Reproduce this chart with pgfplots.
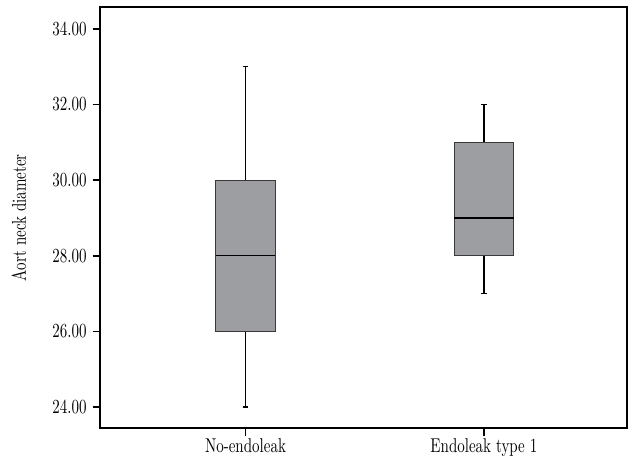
\documentclass[border=0pt]{standalone}
\usepackage{pgfplots}
\pgfplotsset{compat=1.18}
\usepgfplotslibrary{statistics}
\definecolor{boxfill}{HTML}{9D9EA2}
\definecolor{boxedge}{HTML}{3A3A3A}
\newcommand{\lab}[1]{\scalebox{0.9}[1.2]{#1}}
\begin{document}
\begin{tikzpicture}
\begin{axis}[
  name=ax,
  scale only axis,
  width=316pt, height=252.6pt,
  xmin=-0.61, xmax=1.6,
  ymin=23.44, ymax=34.58,
  xtick={0,1},
  xticklabels={\lab{No-endoleak}, \lab{Endoleak type 1}},
  ytick={24,26,28,30,32,34},
  yticklabel={\lab{\pgfmathprintnumber[fixed,fixed zerofill,precision=2]{\tick}}},
  tick align=outside,
  tick pos=left,
  major tick length=4.5pt,
  every tick/.style={black, line width=1pt},
  axis line style={line width=1pt},
  ylabel={\lab{Aort neck diameter}},
  ylabel style={at={(axis description cs:-0.154,0.5)}, anchor=center},
  xticklabel style={yshift=1.5pt},
  boxplot/draw direction=y,
  clip=true,
]
\addplot+[draw=boxedge, line width=0.7pt, fill=boxfill, solid,
  mark size=0pt, mark options={draw=none, fill=none},
  boxplot prepared={lower whisker=24, lower quartile=26, median=28,
    upper quartile=30, upper whisker=33, draw position=0,
    box extend=0.25, whisker extend=0.025,
    every whisker/.style={black, line width=0.8pt},
    every median/.style={black, line width=0.7pt}}]
  table[row sep=\\, y index=0] {60\\};
\addplot+[draw=boxedge, line width=0.7pt, fill=boxfill, solid,
  mark size=0pt, mark options={draw=none, fill=none},
  boxplot prepared={lower whisker=27, lower quartile=28, median=29,
    upper quartile=31, upper whisker=32, draw position=1,
    box extend=0.25, whisker extend=0.025,
    every whisker/.style={black, line width=0.8pt},
    every median/.style={black, line width=0.7pt}}]
  table[row sep=\\, y index=0] {60\\};
\end{axis}
\pgfresetboundingbox
\path[use as bounding box] ([xshift=-60pt,yshift=-18pt]ax.south west) rectangle ([xshift=4.8pt,yshift=4.2pt]ax.north east);
\end{tikzpicture}
\end{document}
